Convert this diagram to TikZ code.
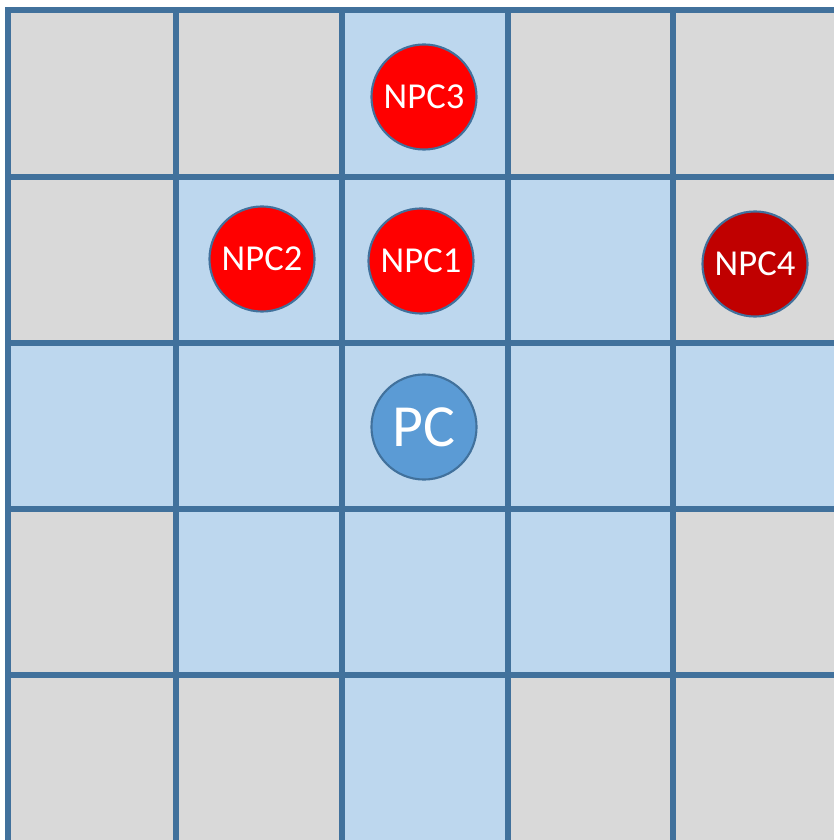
\documentclass[tikz,border=0pt]{standalone}
\usepackage{fontspec}
\setsansfont{Carlito}
\definecolor{grisceld}{HTML}{D9D9D9}
\definecolor{azulceld}{HTML}{BDD7EE}
\definecolor{bordeazul}{HTML}{41719C}
\definecolor{rojonpc}{HTML}{FF0000}
\definecolor{rojooscuro}{HTML}{C00000}
\definecolor{azulpc}{HTML}{5B9BD5}
\usetikzlibrary{positioning}

\begin{document}
\begin{tikzpicture}[x=0.01cm,y=-0.01cm,
    celda/.style={draw=bordeazul,line width=1.45pt},
    ficha/.style={circle,draw=bordeazul,line width=0.6pt,minimum size=1.05cm,
      inner sep=0pt,text=white,font=\sffamily\fontsize{10.4}{12}\selectfont}]
    \useasboundingbox (0,0) rectangle (833,840);
    \def\bordesx{{8,176,342,508,673,850}}
    \def\bordesy{{10,177,343,509,675,850}}
    % casillas grises y azules
    \foreach \c/\r/\tono in {1/1/grisceld,2/1/grisceld,3/1/azulceld,4/1/grisceld,5/1/grisceld,
        1/2/grisceld,2/2/azulceld,3/2/azulceld,4/2/azulceld,5/2/grisceld,
        1/3/azulceld,2/3/azulceld,3/3/azulceld,4/3/azulceld,5/3/azulceld,
        1/4/grisceld,2/4/azulceld,3/4/azulceld,4/4/azulceld,5/4/grisceld,
        1/5/grisceld,2/5/grisceld,3/5/azulceld,4/5/grisceld,5/5/grisceld}{
      \pgfmathsetmacro{\xa}{\bordesx[\c-1]}
      \pgfmathsetmacro{\xb}{\bordesx[\c]}
      \pgfmathsetmacro{\ya}{\bordesy[\r-1]}
      \pgfmathsetmacro{\yb}{\bordesy[\r]}
      \filldraw[celda,fill=\tono] (\xa,\ya) rectangle (\xb,\yb);
    }
    % fichas
    \node[ficha,fill=rojonpc] (npc3) at (424,97) {NPC3};
    \node[ficha,fill=rojonpc] (npc2) at (262,259) {NPC2};
    \node[ficha,fill=rojonpc] (npc1) at (421,261) {NPC1};
    \node[ficha,fill=rojooscuro] (npc4) at (755,264) {NPC4};
    \node[ficha,fill=azulpc,font=\sffamily\fontsize{17}{20}\selectfont]
      (pc) at (424,427) {PC};
  \end{tikzpicture}
\end{document}
